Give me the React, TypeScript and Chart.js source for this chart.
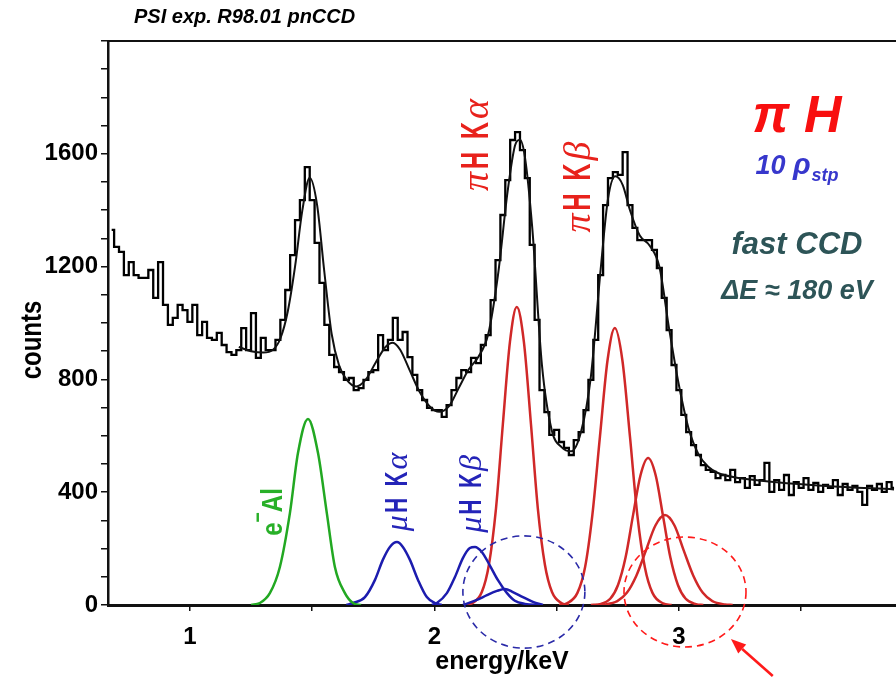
import React, { useEffect, useRef } from "react";
import { Chart, registerables } from "chart.js";

Chart.register(...registerables);

// ---------- data ----------
const binStart = 0.68; // keV, centre of first bin
const binWidth = 0.02; // keV
const histCounts = [
  1330, 1270, 1252, 1170, 1216, 1170, 1160, 1160, 1188, 1089,
  1216, 1064, 993, 1018, 1064, 1046, 1004, 1064, 957, 1004,
  947, 940, 965, 922, 897, 887, 904, 982, 904, 1035,
  876, 947, 904, 904, 940, 1011, 1117, 1241, 1365, 1436,
  1553, 1436, 1284, 1142, 993, 887, 844, 826, 798, 805,
  762, 769, 798, 826, 833, 957, 904, 940, 1018, 940,
  968, 879, 816, 762, 727, 699, 691, 691, 667, 709,
  762, 805, 833, 826, 876, 858, 922, 957, 1081, 1223,
  1383, 1507, 1649, 1677, 1613, 1514, 1277, 1011, 762, 684,
  603, 621, 578, 557, 532, 585, 613, 691, 798, 940,
  1170, 1418, 1514, 1535, 1525, 1606, 1418, 1337, 1294, 1294,
  1294, 1259, 1195, 1089, 975, 851, 762, 674, 613, 567,
  532, 496, 479, 472, 450, 461, 443, 479, 436, 450,
  415, 457, 426, 443, 504, 401, 443, 408, 461, 390,
  436, 415, 450, 408, 433, 401, 426, 415, 443, 390,
  429, 408, 422, 401, 355, 422, 408, 429, 401, 436,
  415,
];

const fitX = [1.2, 1.25, 1.3, 1.34, 1.37, 1.4, 1.43, 1.46, 1.49, 1.52, 1.55, 1.58, 1.61, 1.64, 1.68, 1.72, 1.76, 1.8, 1.83, 1.86, 1.9, 1.94, 1.98, 2.02, 2.06, 2.1, 2.14, 2.18, 2.22, 2.26, 2.3, 2.33, 2.35, 2.37, 2.4, 2.44, 2.48, 2.52, 2.56, 2.6, 2.64, 2.68, 2.71, 2.74, 2.77, 2.8, 2.84, 2.88, 2.92, 2.96, 3.0, 3.04, 3.08, 3.12, 3.16, 3.25, 3.4, 3.6, 3.88];
const fitY = [915, 900, 895, 905, 945, 1040, 1200, 1400, 1515, 1420, 1180, 960, 850, 800, 775, 800, 860, 915, 930, 905, 830, 755, 705, 685, 705, 770, 835, 880, 960, 1170, 1470, 1630, 1650, 1590, 1340, 850, 620, 560, 545, 615, 810, 1190, 1440, 1520, 1490, 1400, 1310, 1275, 1200, 980, 780, 625, 535, 490, 468, 450, 435, 422, 410];

// e- Al line (green)
const alX = [1.25, 1.286, 1.327, 1.368, 1.409, 1.442, 1.483, 1.524, 1.56, 1.593, 1.634, 1.667, 1.7];
const alY = [0, 7, 42, 135, 326, 539, 660, 539, 326, 135, 42, 7, 0];

// muH K-alpha (blue)
const muKaX = [1.64, 1.667, 1.716, 1.757, 1.789, 1.818, 1.847, 1.871, 1.9, 1.933, 1.969, 2.002, 2.03];
const muKaY = [0, 7, 28, 89, 160, 206, 223, 206, 160, 89, 28, 7, 0];

// muH K-beta (blue)
const muKbX = [1.99, 2.01, 2.051, 2.084, 2.117, 2.145, 2.166, 2.194, 2.227, 2.26, 2.297, 2.329, 2.37, 2.431];
const muKbY = [0, 7, 42, 99, 167, 202, 206, 188, 140, 88, 42, 15, 4, 0];

// muH higher line (blue, small)
const muKgX = [2.117, 2.174, 2.215, 2.256, 2.288, 2.321, 2.362, 2.403, 2.444];
const muKgY = [0, 18, 35, 50, 57, 46, 28, 11, 0];

// piH K-alpha (red)
const piKaX = [2.12, 2.153, 2.194, 2.223, 2.252, 2.28, 2.309, 2.337, 2.366, 2.395, 2.423, 2.452, 2.481, 2.521, 2.55];
const piKaY = [0, 6, 46, 143, 343, 641, 933, 1057, 933, 641, 343, 143, 46, 6, 0];

// piH K-beta (red)
const piKbX = [2.51, 2.542, 2.585, 2.616, 2.646, 2.677, 2.708, 2.738, 2.769, 2.8, 2.83, 2.861, 2.892, 2.935, 2.97];
const piKbY = [0, 6, 43, 133, 319, 596, 867, 982, 867, 596, 319, 133, 43, 6, 0];

// piH K-gamma (red)
const piKgX = [2.64, 2.677, 2.72, 2.751, 2.782, 2.812, 2.843, 2.874, 2.905, 2.935, 2.965, 2.996, 3.027, 3.07, 3.1];
const piKgY = [0, 3, 23, 71, 169, 316, 460, 521, 460, 316, 169, 71, 23, 3, 0];

// piH K-delta (red)
const piKdX = [2.66, 2.697, 2.748, 2.787, 2.826, 2.865, 2.904, 2.943, 2.982, 3.02, 3.059, 3.098, 3.137, 3.188, 3.22];
const piKdY = [0, 2, 14, 43, 104, 193, 282, 319, 282, 193, 104, 43, 14, 2, 0];

const xTickValues = [1, 1.5, 2, 2.5, 3, 3.5];
const yTickValues = [0, 100, 200, 300, 400, 500, 600, 700, 800, 900, 1000, 1100, 1200, 1300, 1400, 1500, 1600, 1700, 1800, 1900, 2000];
const yLabelValues = [0, 400, 800, 1200, 1600];

// ---------- helpers ----------
const SANS = '"Liberation Sans", Arial, sans-serif';
const SERIF = '"Liberation Serif", "DejaVu Serif", serif';

type Piece = { t: string; font: string; color: string; dy?: number; sx?: number; gap?: number };

function drawRich(ctx: CanvasRenderingContext2D, cx: number, cy: number, pieces: Piece[], rot = 0) {
  ctx.save();
  ctx.translate(cx, cy);
  if (rot) ctx.rotate(rot);
  ctx.textBaseline = "alphabetic";
  ctx.textAlign = "left";
  let total = 0;
  const widths = pieces.map((p, i) => {
    ctx.font = p.font;
    const w = ctx.measureText(p.t).width * (p.sx ?? 1);
    total += w + (i < pieces.length - 1 ? p.gap ?? 0 : 0);
    return w;
  });
  let x = -total / 2;
  pieces.forEach((p, i) => {
    ctx.font = p.font;
    ctx.fillStyle = p.color;
    ctx.save();
    ctx.translate(x, p.dy ?? 0);
    ctx.scale(p.sx ?? 1, 1);
    ctx.fillText(p.t, 0, 0);
    ctx.restore();
    x += widths[i] + (p.gap ?? 0);
  });
  ctx.restore();
}

const decorPlugin = {
  id: "decor",
  afterDraw(chart: any) {
    const ctx: CanvasRenderingContext2D = chart.ctx;
    const xs = chart.scales.x;
    const ys = chart.scales.y;
    const X = (v: number) => xs.getPixelForValue(v);
    const Y = (v: number) => ys.getPixelForValue(v);
    const area = chart.chartArea;

    // top frame line
    ctx.save();
    ctx.strokeStyle = "#111";
    ctx.lineWidth = 2;
    ctx.beginPath();
    ctx.moveTo(area.left - 1, area.top);
    ctx.lineTo(area.right, area.top);
    ctx.stroke();
    ctx.restore();

    // title
    ctx.save();
    ctx.fillStyle = "#000";
    ctx.font = `italic bold 20px ${SANS}`;
    ctx.textAlign = "left";
    ctx.textBaseline = "alphabetic";
    ctx.fillText("PSI exp. R98.01 pnCCD", 134, 23);
    ctx.restore();

    // y axis title
    drawRich(ctx, 30, 340, [{ t: "counts", font: `bold 30px ${SANS}`, color: "#000", sx: 0.8, dy: 11 }], -Math.PI / 2);

    const R = -Math.PI / 2;
    const red = "#e8221c";
    const blue = "#2424b8";
    const green = "#28b028";

    // piH K alpha
    drawRich(ctx, X(2.166), Y(1631), [
      { t: "π", font: `italic 38px ${SERIF}`, color: red, dy: 13, gap: 3 },
      { t: "H  K", font: `bold 38px ${SANS}`, color: red, dy: 13, sx: 0.62, gap: 3 },
      { t: "α", font: `italic 38px ${SERIF}`, color: red, dy: 13 },
    ], R);
    // piH K beta
    drawRich(ctx, X(2.583), Y(1482), [
      { t: "π", font: `italic 38px ${SERIF}`, color: red, dy: 13, gap: 3 },
      { t: "H  K", font: `bold 38px ${SANS}`, color: red, dy: 13, sx: 0.62, gap: 3 },
      { t: "β", font: `italic 38px ${SERIF}`, color: red, dy: 13 },
    ], R);
    // muH K alpha
    drawRich(ctx, X(1.838), Y(401), [
      { t: "μ", font: `italic 32px ${SERIF}`, color: blue, dy: 12, gap: 2 },
      { t: "H  K", font: `bold 32px ${SANS}`, color: blue, dy: 12, sx: 0.65, gap: 2 },
      { t: "α", font: `italic 32px ${SERIF}`, color: blue, dy: 12 },
    ], R);
    // muH K beta
    drawRich(ctx, X(2.141), Y(394), [
      { t: "μ", font: `italic 32px ${SERIF}`, color: blue, dy: 12, gap: 2 },
      { t: "H  K", font: `bold 32px ${SANS}`, color: blue, dy: 12, sx: 0.65, gap: 2 },
      { t: "β", font: `italic 32px ${SERIF}`, color: blue, dy: 12 },
    ], R);
    // e- Al
    drawRich(ctx, X(1.331), Y(330), [
      { t: "e", font: `bold 30px ${SANS}`, color: green, dy: 11, sx: 0.8, gap: 0 },
      { t: "−", font: `bold 22px ${SANS}`, color: green, dy: -6, sx: 0.8, gap: 0 },
      { t: "Al", font: `bold 30px ${SANS}`, color: green, dy: 11, sx: 0.8 },
    ], R);

    // right-hand annotations
    drawRich(ctx, X(3.483), Y(1745), [
      { t: "π H", font: `italic bold 52px ${SANS}`, color: "#f80f0f", dy: 19 },
    ]);
    drawRich(ctx, X(3.483), Y(1550), [
      { t: "10 ", font: `italic bold 27px ${SANS}`, color: "#3737cc", dy: 6 },
      { t: "ρ", font: `italic bold 29px ${SANS}`, color: "#3737cc", dy: 6, gap: 1 },
      { t: "stp", font: `italic bold 18px ${SANS}`, color: "#3737cc", dy: 13 },
    ]);
    drawRich(ctx, X(3.483), Y(1284), [
      { t: "fast CCD", font: `italic bold 31px ${SANS}`, color: "#2d5457", dy: 11 },
    ]);
    drawRich(ctx, X(3.483), Y(1121), [
      { t: "ΔE ≈ 180 eV", font: `italic bold 27px ${SANS}`, color: "#2d5457", dy: 10 },
    ]);

    // dashed ellipses
    ctx.save();
    ctx.lineWidth = 1.6;
    ctx.setLineDash([7, 5]);
    ctx.strokeStyle = "#2a2aa8";
    ctx.beginPath();
    ctx.ellipse(X(2.366), Y(46), X(2.366 + 0.2495) - X(2.366), Y(0) - Y(199), 0, 0, Math.PI * 2);
    ctx.stroke();
    ctx.strokeStyle = "#ff1a1a";
    ctx.beginPath();
    ctx.ellipse(X(3.025), Y(46), X(3.025 + 0.2495) - X(3.025), Y(0) - Y(195), 0, 0, Math.PI * 2);
    ctx.stroke();
    ctx.restore();

    // red arrow
    const tx = X(3.384), ty = Y(-252);
    const hx = X(3.213), hy = Y(-121);
    const ang = Math.atan2(hy - ty, hx - tx);
    const hl = 15, hw = 6;
    const bx = hx - hl * Math.cos(ang), by = hy - hl * Math.sin(ang);
    ctx.save();
    ctx.strokeStyle = "#ff1a1a";
    ctx.fillStyle = "#ff1a1a";
    ctx.lineWidth = 2.6;
    ctx.beginPath();
    ctx.moveTo(tx, ty);
    ctx.lineTo(bx, by);
    ctx.stroke();
    ctx.beginPath();
    ctx.moveTo(hx, hy);
    ctx.lineTo(bx + hw * Math.sin(ang), by - hw * Math.cos(ang));
    ctx.lineTo(bx - hw * Math.sin(ang), by + hw * Math.cos(ang));
    ctx.closePath();
    ctx.fill();
    ctx.restore();
  },
};

function curve(label: string, xs: number[], ys: number[], color: string, width: number) {
  return {
    label,
    data: xs.map((x, i) => ({ x, y: ys[i] })),
    borderColor: color,
    borderWidth: width,
    pointRadius: 0,
    fill: false,
    cubicInterpolationMode: "monotone" as const,
  };
}

export default function App() {
  const canvasRef = useRef<HTMLCanvasElement | null>(null);

  useEffect(() => {
    const canvas = canvasRef.current;
    if (!canvas) return;
    const histData = histCounts.map((c, i) => ({ x: binStart + i * binWidth, y: c }));
    const tickFont = { family: SANS, weight: "bold" as const, size: 24 };

    const chart = new Chart(canvas, {
      type: "line",
      data: {
        datasets: [
          curve("e⁻Al", alX, alY, "#22a822", 2.5),
          curve("μH Kα", muKaX, muKaY, "#1c1cae", 2.5),
          curve("μH Kβ", muKbX, muKbY, "#1c1cae", 2.5),
          curve("μH Kγ", muKgX, muKgY, "#1c1cae", 2.5),
          curve("πH Kα", piKaX, piKaY, "#d02828", 2.5),
          curve("πH Kβ", piKbX, piKbY, "#d02828", 2.5),
          curve("πH Kγ", piKgX, piKgY, "#d02828", 2.5),
          curve("πH Kδ", piKdX, piKdY, "#d02828", 2.5),
          curve("fit", fitX, fitY, "#111", 2),
          {
            label: "data",
            data: histData,
            borderColor: "#000",
            borderWidth: 2.3,
            pointRadius: 0,
            fill: false,
            stepped: "middle" as const,
          },
        ],
      },
      options: {
        animation: false,
        responsive: false,
        devicePixelRatio: 1,
        layout: { padding: { top: 41, left: 0, right: 0, bottom: 0 } },
        plugins: {
          legend: { display: false },
          tooltip: { enabled: false },
          title: { display: false },
        },
        scales: {
          x: {
            type: "linear",
            min: 0.665,
            max: 3.888,
            afterFit: (s: any) => {
              s.height = 75;
            },
            afterBuildTicks: (s: any) => {
              s.ticks = xTickValues.map((v) => ({ value: v }));
            },
            ticks: {
              autoSkip: false,
              maxRotation: 0,
              color: "#000",
              font: tickFont,
              padding: 12,
              callback: (v: any) => (Number.isInteger(Number(v)) ? String(v) : ""),
            },
            grid: {
              display: true,
              drawOnChartArea: false,
              drawTicks: true,
              tickLength: 6,
              color: "#111",
              lineWidth: 1.5,
            },
            border: { display: true, color: "#111", width: 3 },
            title: {
              display: true,
              text: "energy/keV",
              color: "#000",
              font: { family: SANS, weight: "bold", size: 25 },
              padding: 3,
            },
          },
          y: {
            type: "linear",
            min: 0,
            max: 2000,
            afterFit: (s: any) => {
              s.width = 108;
            },
            afterBuildTicks: (s: any) => {
              s.ticks = yTickValues.map((v) => ({ value: v }));
            },
            ticks: {
              autoSkip: false,
              color: "#000",
              font: tickFont,
              padding: 3,
              callback: (v: any) => (yLabelValues.includes(Number(v)) ? String(v) : ""),
            },
            grid: {
              display: true,
              drawOnChartArea: false,
              drawTicks: true,
              tickLength: 7,
              color: "#111",
              lineWidth: 1.5,
            },
            border: { display: true, color: "#111", width: 2.5 },
          },
        },
      },
      plugins: [decorPlugin],
    } as any);

    return () => chart.destroy();
  }, []);

  return (
    <div style={{ position: "absolute", left: 0, top: 0, width: 896, height: 680, background: "#fff" }}>
      <canvas ref={canvasRef} width={896} height={680} style={{ display: "block" }} />
    </div>
  );
}
